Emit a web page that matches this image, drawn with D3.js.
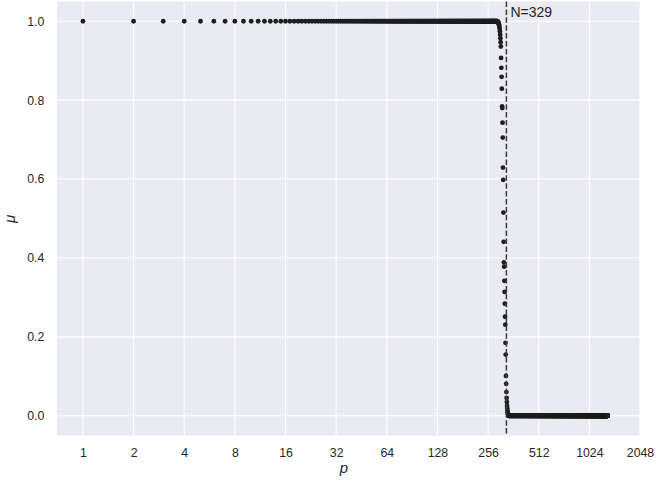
<!DOCTYPE html>
<html>
<head>
<meta charset="utf-8">
<script src="https://d3js.org/d3.v7.min.js"></script>
<style>
  body { margin: 0; background: #fff; }
  text { font-family: "Liberation Sans", Arial, sans-serif; fill: #262626; }
</style>
</head>
<body>
<div id="chart"></div>
<script>
  // data
  var N = 329;
  var pMax = 1316;                 // last p plotted
  var highPlateau = [1, 289];      // p range where mu = 1.0
  var highValue = 1.0;
  var dropStart = 290;             // first p of the explicit drop values
  var dropValues = [1.0, 0.999, 0.999, 0.998, 0.997, 0.996, 0.994, 0.992,
                    0.989, 0.985, 0.980, 0.974, 0.966, 0.957, 0.947, 0.936,
                    0.907, 0.882, 0.859, 0.829, 0.784, 0.780, 0.743, 0.705,
                    0.629, 0.598, 0.515, 0.441, 0.389, 0.378, 0.342, 0.314,
                    0.284, 0.251, 0.231, 0.185, 0.155, 0.101, 0.081, 0.060,
                    0.045, 0.035, 0.025, 0.018, 0.012, 0.008, 0.005, 0.003,
                    0.002, 0.001];
  var lowValue = 0.0;              // mu after the drop, up to pMax
  var xTicks = [1, 2, 4, 8, 16, 32, 64, 128, 256, 512, 1024, 2048];
  var yTicks = [0.0, 0.2, 0.4, 0.6, 0.8, 1.0];

  var points = [];
  d3.range(highPlateau[0], highPlateau[1] + 1).forEach(function(p){ points.push([p, highValue]); });
  dropValues.forEach(function(v, i){ points.push([dropStart + i, v]); });
  d3.range(dropStart + dropValues.length, pMax + 1).forEach(function(p){ points.push([p, lowValue]); });

  var width = 656, height = 483;
  var mLeft = 57, mRight = 640, mTop = 1.5, mBottom = 435.5;

  var svg = d3.select("#chart").append("svg")
              .attr("width", width)
              .attr("height", height);

  var x = d3.scaleLog().base(2).domain([Math.pow(2, -0.512), 2048]).range([mLeft, mRight]);
  var y = d3.scaleLinear().domain([-0.05, 1.05]).range([mBottom, mTop]);

  svg.append("rect")
     .attr("x", mLeft).attr("y", mTop)
     .attr("width", mRight - mLeft).attr("height", mBottom - mTop)
     .attr("fill", "#eaeaf2");

  // grid
  svg.selectAll(".vgrid").data(xTicks).enter().append("line")
     .attr("x1", function(d){ return x(d); }).attr("x2", function(d){ return x(d); })
     .attr("y1", mTop).attr("y2", mBottom)
     .attr("stroke", "#fff").attr("stroke-width", 1.1);
  svg.selectAll(".hgrid").data(yTicks).enter().append("line")
     .attr("y1", function(d){ return y(d); }).attr("y2", function(d){ return y(d); })
     .attr("x1", mLeft).attr("x2", mRight)
     .attr("stroke", "#fff").attr("stroke-width", 1.1);

  // axes (labels only, seaborn darkgrid has no spines)
  var xAxis = svg.append("g")
     .attr("transform", "translate(0," + mBottom + ")")
     .call(d3.axisBottom(x).tickValues(xTicks).tickFormat(d3.format("d")).tickSize(0).tickPadding(12.5));
  var yAxis = svg.append("g")
     .attr("transform", "translate(" + mLeft + ",0)")
     .call(d3.axisLeft(y).tickValues(yTicks).tickFormat(d3.format(".1f")).tickSize(0).tickPadding(12.7));
  [xAxis, yAxis].forEach(function(g){
    g.select(".domain").remove();
    g.selectAll("text").attr("font-size", "12.3px").attr("fill", "#262626")
     .attr("font-family", "Liberation Sans, Arial, sans-serif");
  });

  // points
  svg.append("g").selectAll("circle")
     .data(points).enter().append("circle")
     .attr("cx", function(d){ return x(d[0]); })
     .attr("cy", function(d){ return y(d[1]); })
     .attr("r", 2.4)
     .attr("fill", "#1e1e1e");

  // threshold line
  svg.append("line")
     .attr("x1", x(N)).attr("x2", x(N))
     .attr("y1", mTop).attr("y2", mBottom)
     .attr("stroke", "#3c3c3c").attr("stroke-width", 1.5)
     .attr("stroke-dasharray", "5.5,2.4");
  svg.append("text")
     .attr("x", x(N) + 4).attr("y", 17)
     .attr("font-size", "14px")
     .text("N=" + N);

  // axis labels
  svg.append("text")
     .attr("x", 344).attr("y", 473)
     .attr("text-anchor", "middle")
     .attr("font-family", "DejaVu Sans, sans-serif")
     .attr("font-size", "15px").attr("font-style", "italic")
     .text("p");
  svg.append("text")
     .attr("transform", "translate(14.5,219) rotate(-90)")
     .attr("text-anchor", "middle")
     .attr("font-family", "DejaVu Sans, sans-serif")
     .attr("font-size", "15px").attr("font-style", "italic")
     .text("μ");
</script>
</body>
</html>
